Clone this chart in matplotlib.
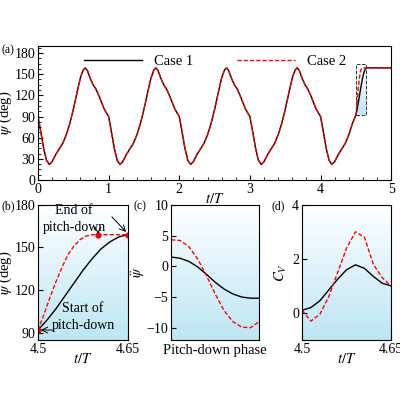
import matplotlib
matplotlib.use('Agg')
import matplotlib.pyplot as plt
import numpy as np

plt.rcParams['font.family'] = ['Liberation Serif', 'DejaVu Serif']
plt.rcParams['mathtext.fontset'] = 'stix'
plt.rcParams['font.size'] = 10.5
plt.rcParams['xtick.labelsize'] = 10
plt.rcParams['ytick.labelsize'] = 10

# one flapping cycle of psi (deg), t/T within cycle
cyc_t = [0.0, 0.04, 0.08, 0.12, 0.16, 0.2, 0.25, 0.3, 0.35, 0.4, 0.45, 0.5, 0.55, 0.6, 0.64, 0.67,
         0.7, 0.74, 0.78, 0.82, 0.86, 0.9, 0.94, 0.97]
cyc_psi = [90, 68, 45, 28, 22, 26, 36, 44, 52, 64, 80, 100, 123, 145, 156, 159,
           155, 144, 135, 129, 120, 110, 100, 95]
# pitch-down phase (t/T from 4.5 to 4.65)
pd_t1 = [4.5, 4.515, 4.53, 4.545, 4.56, 4.575, 4.59, 4.605, 4.62, 4.635, 4.65]
pd_psi1 = [92, 99, 107, 116, 125, 134, 142, 149, 154, 157.5, 159]
pd_t2 = [4.5, 4.51, 4.52, 4.53, 4.54, 4.55, 4.56, 4.57, 4.58, 4.59, 4.6]
pd_psi2 = [92, 103, 115, 126, 136, 145, 151, 155.5, 158, 159, 159]
hold_t = [4.65, 5.0]
hold_psi = [159, 159]
# psi double dot vs pitch-down phase
ph = [0, 0.1, 0.2, 0.3, 0.4, 0.5, 0.6, 0.7, 0.8, 0.9, 1.0]
acc1 = [1.5, 1.3, 0.8, -0.1, -1.3, -2.6, -3.7, -4.5, -5.0, -5.2, -5.2]
acc2 = [4.3, 4.2, 3.2, 1.2, -1.5, -4.5, -7.2, -9.0, -9.9, -10.0, -9.0]
# vertical force coefficient
cv1 = [0.1, 0.2, 0.45, 0.85, 1.25, 1.6, 1.78, 1.65, 1.35, 1.1, 1.0]
cv2 = [0.1, -0.3, -0.05, 0.6, 1.5, 2.4, 3.0, 2.8, 1.8, 1.3, 1.0]

DASH = (3, 1.5)

fig = plt.figure(figsize=(4, 4), dpi=100)
ax = fig.add_axes([0.095, 0.55, 0.883, 0.335])

t_all, p_all = [], []
for k in range(4):
    t_all += [k + v for v in cyc_t]
    p_all += cyc_psi
t_all += [4 + v for v in cyc_t if v < 0.5]
p_all += [p for v, p in zip(cyc_t, cyc_psi) if v < 0.5]
t1 = t_all + pd_t1 + hold_t
p1 = p_all + pd_psi1 + hold_psi
t2 = t_all + pd_t2 + hold_t
p2 = p_all + pd_psi2 + hold_psi


def grad(a, x0, x1, y0, y1):
    g = np.linspace(0, 1, 100).reshape(-1, 1)
    cmap = matplotlib.colors.LinearSegmentedColormap.from_list('g', ['#ffffff', '#bde6f4'])
    a.imshow(g, cmap=cmap, extent=[x0, x1, y0, y1], aspect='auto', zorder=0, vmin=0, vmax=1)


grad(ax, 4.5, 4.65, 92, 164)
ax.plot([4.5, 4.65, 4.65, 4.5, 4.5], [92, 92, 164, 164, 92], ls='--', color='#333333', lw=0.7)
ax.plot(t1, p1, color='black', lw=1, label='Case 1')
ax.plot(t2, p2, color='red', lw=1, ls='--', dashes=DASH, label='Case 2')
ax.set_xlim(0, 5)
ax.set_ylim(0, 190)
ax.set_yticks(range(0, 181, 30))
ax.set_xticks(range(0, 6))
ax.minorticks_on()
ax.tick_params(which='both', direction='in', top=False, right=False, pad=2)
ax.set_xlabel('$t/T$', labelpad=-3)
ax.set_ylabel(r'$\psi$ (deg)', labelpad=0)
ax.legend(loc='upper center', ncol=2, frameon=False, bbox_to_anchor=(0.5, 1.03), handlelength=4, columnspacing=3)
fig.text(0.005, 0.868, '(a)', fontsize=8.5)

# (b)
bx = fig.add_axes([0.095, 0.15, 0.225, 0.338])
bx.plot(pd_t1, pd_psi1, color='black', lw=1)
bx.plot(pd_t2 + [4.65], pd_psi2 + [159], color='red', lw=1, ls='--', dashes=DASH)
bx.plot([4.5, 4.6, 4.65], [92, 159, 159], 'o', color='red', ms=3.5)
grad(bx, 4.5, 4.65, 85, 180)
bx.set_xlim(4.5, 4.65)
bx.set_ylim(85, 180)
bx.set_xticks([4.5, 4.65])
bx.set_xticklabels(['4.5', '4.65'])
bx.set_yticks([90, 120, 150, 180])
bx.tick_params(direction='in', pad=2)
bx.set_xlabel('$t/T$', labelpad=-3)
bx.set_ylabel(r'$\psi$ (deg)', labelpad=0)
bx.annotate('', xy=(4.5, 92), xytext=(4.53, 92), arrowprops=dict(arrowstyle='->', lw=0.7))
bx.text(4.575, 101, 'Start of\npitch-down', ha='center', va='center', fontsize=10, linespacing=1.4)
bx.text(4.56, 170, 'End of\npitch-down', ha='center', va='center', fontsize=10, linespacing=1.4)
bx.annotate('', xy=(4.6, 159.5), xytext=(4.6, 163), arrowprops=dict(arrowstyle='->', lw=0.7))
bx.annotate('', xy=(4.65, 159.5), xytext=(4.62, 173), arrowprops=dict(arrowstyle='->', lw=0.7))
fig.text(0.003, 0.478, '(b)', fontsize=8.5)

# (c)
cx = fig.add_axes([0.428, 0.15, 0.22, 0.338])
grad(cx, 0, 1, -12, 10)
cx.plot(ph, acc1, color='black', lw=1)
cx.plot(ph, acc2, color='red', lw=1, ls='--', dashes=DASH)
cx.set_xlim(0, 1)
cx.set_ylim(-12, 10)
cx.set_xticks([])
cx.set_yticks([-10, -5, 0, 5, 10])
cx.tick_params(direction='in', pad=2)
cx.set_xlabel('Pitch-down phase', labelpad=3)
cx.set_ylabel(r'$\ddot{\psi}$', labelpad=0)
fig.text(0.335, 0.478, '(c)', fontsize=8.5)

# (d)
dx = fig.add_axes([0.755, 0.15, 0.223, 0.338])
grad(dx, 4.5, 4.65, -1, 4)
dx.plot(pd_t1, cv1, color='black', lw=1)
dx.plot(pd_t1, cv2, color='red', lw=1, ls='--', dashes=DASH)
dx.set_xlim(4.5, 4.65)
dx.set_ylim(-1, 4)
dx.set_xticks([4.5, 4.65])
dx.set_xticklabels(['4.5', '4.65'])
dx.set_yticks([0, 2, 4])
dx.tick_params(direction='in', pad=2)
dx.set_xlabel('$t/T$', labelpad=-3)
dx.set_ylabel('$C_V$', labelpad=2)
fig.text(0.68, 0.478, '(d)', fontsize=8.5)

fig.savefig('out.png', dpi=100)
